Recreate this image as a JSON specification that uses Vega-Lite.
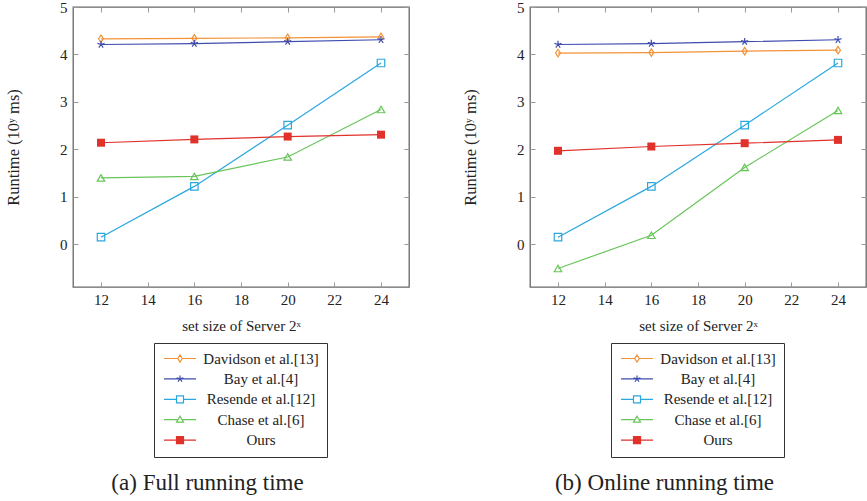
{
  "$schema": "https://vega.github.io/schema/vega-lite/v6.json",
  "padding": {"left": 4, "top": -1, "right": 0, "bottom": 0},
  "background": "white",
  "spacing": 50,
  "config": {
    "view": {"stroke": "#666666", "strokeWidth": 1.3},
    "font": "Liberation Serif",
    "axis": {"labelFont": "Liberation Serif", "labelFontSize": 15, "labelColor": "#222222", "titleFont": "Liberation Serif", "titleFontWeight": "normal", "titleColor": "#222222", "grid": false, "domain": false, "tickColor": "#999999", "tickSize": -5, "tickWidth": 1}
  },
  "datasets": {
    "full": [
      {"series": "Davidson et al.[13]", "x": 12, "y": 4.33},
      {"series": "Davidson et al.[13]", "x": 16, "y": 4.34},
      {"series": "Davidson et al.[13]", "x": 20, "y": 4.35},
      {"series": "Davidson et al.[13]", "x": 24, "y": 4.37},
      {"series": "Bay et al.[4]", "x": 12, "y": 4.21},
      {"series": "Bay et al.[4]", "x": 16, "y": 4.23},
      {"series": "Bay et al.[4]", "x": 20, "y": 4.27},
      {"series": "Bay et al.[4]", "x": 24, "y": 4.31},
      {"series": "Resende et al.[12]", "x": 12, "y": 0.15},
      {"series": "Resende et al.[12]", "x": 16, "y": 1.22},
      {"series": "Resende et al.[12]", "x": 20, "y": 2.51},
      {"series": "Resende et al.[12]", "x": 24, "y": 3.82},
      {"series": "Chase et al.[6]", "x": 12, "y": 1.40},
      {"series": "Chase et al.[6]", "x": 16, "y": 1.43},
      {"series": "Chase et al.[6]", "x": 20, "y": 1.84},
      {"series": "Chase et al.[6]", "x": 24, "y": 2.84},
      {"series": "Ours", "x": 12, "y": 2.14},
      {"series": "Ours", "x": 16, "y": 2.21},
      {"series": "Ours", "x": 20, "y": 2.27},
      {"series": "Ours", "x": 24, "y": 2.31}
    ],
    "online": [
      {"series": "Davidson et al.[13]", "x": 12, "y": 4.03},
      {"series": "Davidson et al.[13]", "x": 16, "y": 4.04},
      {"series": "Davidson et al.[13]", "x": 20, "y": 4.07},
      {"series": "Davidson et al.[13]", "x": 24, "y": 4.09},
      {"series": "Bay et al.[4]", "x": 12, "y": 4.21},
      {"series": "Bay et al.[4]", "x": 16, "y": 4.23},
      {"series": "Bay et al.[4]", "x": 20, "y": 4.27},
      {"series": "Bay et al.[4]", "x": 24, "y": 4.31},
      {"series": "Resende et al.[12]", "x": 12, "y": 0.15},
      {"series": "Resende et al.[12]", "x": 16, "y": 1.22},
      {"series": "Resende et al.[12]", "x": 20, "y": 2.51},
      {"series": "Resende et al.[12]", "x": 24, "y": 3.82},
      {"series": "Chase et al.[6]", "x": 12, "y": -0.51},
      {"series": "Chase et al.[6]", "x": 16, "y": 0.19},
      {"series": "Chase et al.[6]", "x": 20, "y": 1.62},
      {"series": "Chase et al.[6]", "x": 24, "y": 2.82},
      {"series": "Ours", "x": 12, "y": 1.97},
      {"series": "Ours", "x": 16, "y": 2.06},
      {"series": "Ours", "x": 20, "y": 2.13},
      {"series": "Ours", "x": 24, "y": 2.20}
    ]
  },
  "resolve": {"scale": {"color": "independent", "stroke": "independent", "shape": "independent"}, "legend": {"color": "independent"}},
  "hconcat": [
    {
      "data": {"name": "full"},
      "width": 336,
      "height": 280,
      "title": {"text": "(a) Full running time", "orient": "bottom", "anchor": "middle", "frame": "bounds", "font": "Liberation Serif", "fontSize": 23, "fontWeight": "normal", "color": "#222222", "offset": 14},
      "layer": [
        {
          "mark": {"type": "line", "strokeWidth": 1.2},
          "encoding": {
            "x": {"field": "x", "type": "quantitative", "scale": {"domain": [10.8, 25.2], "nice": false, "zero": false}, "axis": {"orient": "bottom", "values": [12, 14, 16, 18, 20, 22, 24], "labelPadding": 10, "title": "set size of Server 2ˣ", "titleFontSize": 15, "titlePadding": 11}},
            "y": {"field": "y", "type": "quantitative", "scale": {"domain": [-0.9, 5], "nice": false, "zero": false}, "axis": {"orient": "left", "values": [0, 1, 2, 3, 4, 5], "labelPadding": 11, "title": "Runtime (10ʸ ms)", "titleFontSize": 16.5, "titlePadding": 38}},
            "detail": {"field": "series"},
            "color": {"field": "series", "type": "nominal", "scale": {"domain": ["Davidson et al.[13]", "Bay et al.[4]", "Resende et al.[12]", "Chase et al.[6]", "Ours"], "range": ["#f39237", "#3f4dae", "#2aa7de", "#68c55a", "#e0312b"]},
              "legend": {"orient": "none", "legendX": 81, "legendY": 336, "title": null, "strokeColor": "#333333", "fillColor": "white", "padding": 8, "symbolSize": 100, "symbolStrokeWidth": 1.2, "labelFont": "Liberation Serif", "labelFontSize": 15, "labelColor": "#222222", "labelAlign": "center", "labelOffset": 84, "rowPadding": 4.4,
                "encode": {"symbols": {"update": {
                  "shape": {"signal": "datum.value === 'Davidson et al.[13]' ? 'M-1.1,0H1.66M2.54,0H5.3M2.1,-0.7L2.54,0L2.1,0.7L1.66,0Z' : datum.value === 'Bay et al.[4]' ? 'M-1.1,0H5.3M2.1,0V-0.7M2.1,0L2.77,-0.22M2.1,0L2.51,0.57M2.1,0L1.69,0.57M2.1,0L1.43,-0.22' : datum.value === 'Resende et al.[12]' ? 'M-1.1,0H1.4M2.8,0H5.3M1.4,-0.7H2.8V0.7H1.4Z' : datum.value === 'Chase et al.[6]' ? 'M-1.1,0H1.7M2.5,0H5.3M2.1,-0.7L2.8,0.5L1.4,0.5Z' : 'M-1.1,0H5.3M1.4,-0.7H2.8V0.7H1.4Z'"},
                  "fill": {"signal": "datum.value === 'Ours' ? '#e0312b' : 'white'"},
                  "stroke": {"signal": "datum.value === 'Davidson et al.[13]' ? '#f39237' : datum.value === 'Bay et al.[4]' ? '#3f4dae' : datum.value === 'Resende et al.[12]' ? '#2aa7de' : datum.value === 'Chase et al.[6]' ? '#68c55a' : '#e0312b'"},
                  "strokeWidth": {"value": 1.2},
                  "opacity": {"value": 1}
                }}}
              }}
          }
        },
        {
          "transform": [{"filter": "datum.series !== 'Ours'"}],
          "mark": {"type": "point", "filled": false, "strokeWidth": 1.2, "opacity": 1},
          "encoding": {
            "x": {"field": "x", "type": "quantitative", "axis": {"orient": "top", "values": [12, 14, 16, 18, 20, 22, 24], "labels": false, "title": null}},
            "y": {"field": "y", "type": "quantitative", "axis": {"orient": "right", "values": [0, 1, 2, 3, 4, 5], "labels": false, "title": null}},
            "stroke": {"field": "series", "type": "nominal", "scale": {"domain": ["Davidson et al.[13]", "Bay et al.[4]", "Resende et al.[12]", "Chase et al.[6]"], "range": ["#f39237", "#3f4dae", "#2aa7de", "#68c55a"]}, "legend": null},
            "shape": {"field": "series", "type": "nominal", "scale": {"domain": ["Davidson et al.[13]", "Bay et al.[4]", "Resende et al.[12]", "Chase et al.[6]"], "range": ["M0,-1L0.65,0L0,1L-0.65,0Z", "M0,0V-1M0,0L0.95,-0.31M0,0L0.59,0.81M0,0L-0.59,0.81M0,0L-0.95,-0.31", "square", "triangle-up"]}, "legend": null},
            "size": {"value": 56}
          }
        },
        {
          "transform": [{"filter": "datum.series === 'Ours'"}],
          "mark": {"type": "point", "shape": "square", "filled": true, "size": 64, "color": "#e0312b", "opacity": 1},
          "encoding": {
            "x": {"field": "x", "type": "quantitative", "axis": null},
            "y": {"field": "y", "type": "quantitative", "axis": null}
          }
        }
      ]
    },
    {
      "data": {"name": "online"},
      "width": 336,
      "height": 280,
      "title": {"text": "(b) Online running time", "orient": "bottom", "anchor": "middle", "frame": "bounds", "font": "Liberation Serif", "fontSize": 23, "fontWeight": "normal", "color": "#222222", "offset": 14},
      "layer": [
        {
          "mark": {"type": "line", "strokeWidth": 1.2},
          "encoding": {
            "x": {"field": "x", "type": "quantitative", "scale": {"domain": [10.8, 25.2], "nice": false, "zero": false}, "axis": {"orient": "bottom", "values": [12, 14, 16, 18, 20, 22, 24], "labelPadding": 10, "title": "set size of Server 2ˣ", "titleFontSize": 15, "titlePadding": 11}},
            "y": {"field": "y", "type": "quantitative", "scale": {"domain": [-0.9, 5], "nice": false, "zero": false}, "axis": {"orient": "left", "values": [0, 1, 2, 3, 4, 5], "labelPadding": 11, "title": "Runtime (10ʸ ms)", "titleFontSize": 16.5, "titlePadding": 38}},
            "detail": {"field": "series"},
            "color": {"field": "series", "type": "nominal", "scale": {"domain": ["Davidson et al.[13]", "Bay et al.[4]", "Resende et al.[12]", "Chase et al.[6]", "Ours"], "range": ["#f39237", "#3f4dae", "#2aa7de", "#68c55a", "#e0312b"]},
              "legend": {"orient": "none", "legendX": 81, "legendY": 336, "title": null, "strokeColor": "#333333", "fillColor": "white", "padding": 8, "symbolSize": 100, "symbolStrokeWidth": 1.2, "labelFont": "Liberation Serif", "labelFontSize": 15, "labelColor": "#222222", "labelAlign": "center", "labelOffset": 84, "rowPadding": 4.4,
                "encode": {"symbols": {"update": {
                  "shape": {"signal": "datum.value === 'Davidson et al.[13]' ? 'M-1.1,0H1.66M2.54,0H5.3M2.1,-0.7L2.54,0L2.1,0.7L1.66,0Z' : datum.value === 'Bay et al.[4]' ? 'M-1.1,0H5.3M2.1,0V-0.7M2.1,0L2.77,-0.22M2.1,0L2.51,0.57M2.1,0L1.69,0.57M2.1,0L1.43,-0.22' : datum.value === 'Resende et al.[12]' ? 'M-1.1,0H1.4M2.8,0H5.3M1.4,-0.7H2.8V0.7H1.4Z' : datum.value === 'Chase et al.[6]' ? 'M-1.1,0H1.7M2.5,0H5.3M2.1,-0.7L2.8,0.5L1.4,0.5Z' : 'M-1.1,0H5.3M1.4,-0.7H2.8V0.7H1.4Z'"},
                  "fill": {"signal": "datum.value === 'Ours' ? '#e0312b' : 'white'"},
                  "stroke": {"signal": "datum.value === 'Davidson et al.[13]' ? '#f39237' : datum.value === 'Bay et al.[4]' ? '#3f4dae' : datum.value === 'Resende et al.[12]' ? '#2aa7de' : datum.value === 'Chase et al.[6]' ? '#68c55a' : '#e0312b'"},
                  "strokeWidth": {"value": 1.2},
                  "opacity": {"value": 1}
                }}}
              }}
          }
        },
        {
          "transform": [{"filter": "datum.series !== 'Ours'"}],
          "mark": {"type": "point", "filled": false, "strokeWidth": 1.2, "opacity": 1},
          "encoding": {
            "x": {"field": "x", "type": "quantitative", "axis": {"orient": "top", "values": [12, 14, 16, 18, 20, 22, 24], "labels": false, "title": null}},
            "y": {"field": "y", "type": "quantitative", "axis": {"orient": "right", "values": [0, 1, 2, 3, 4, 5], "labels": false, "title": null}},
            "stroke": {"field": "series", "type": "nominal", "scale": {"domain": ["Davidson et al.[13]", "Bay et al.[4]", "Resende et al.[12]", "Chase et al.[6]"], "range": ["#f39237", "#3f4dae", "#2aa7de", "#68c55a"]}, "legend": null},
            "shape": {"field": "series", "type": "nominal", "scale": {"domain": ["Davidson et al.[13]", "Bay et al.[4]", "Resende et al.[12]", "Chase et al.[6]"], "range": ["M0,-1L0.65,0L0,1L-0.65,0Z", "M0,0V-1M0,0L0.95,-0.31M0,0L0.59,0.81M0,0L-0.59,0.81M0,0L-0.95,-0.31", "square", "triangle-up"]}, "legend": null},
            "size": {"value": 56}
          }
        },
        {
          "transform": [{"filter": "datum.series === 'Ours'"}],
          "mark": {"type": "point", "shape": "square", "filled": true, "size": 64, "color": "#e0312b", "opacity": 1},
          "encoding": {
            "x": {"field": "x", "type": "quantitative", "axis": null},
            "y": {"field": "y", "type": "quantitative", "axis": null}
          }
        }
      ]
    }
  ]
}
